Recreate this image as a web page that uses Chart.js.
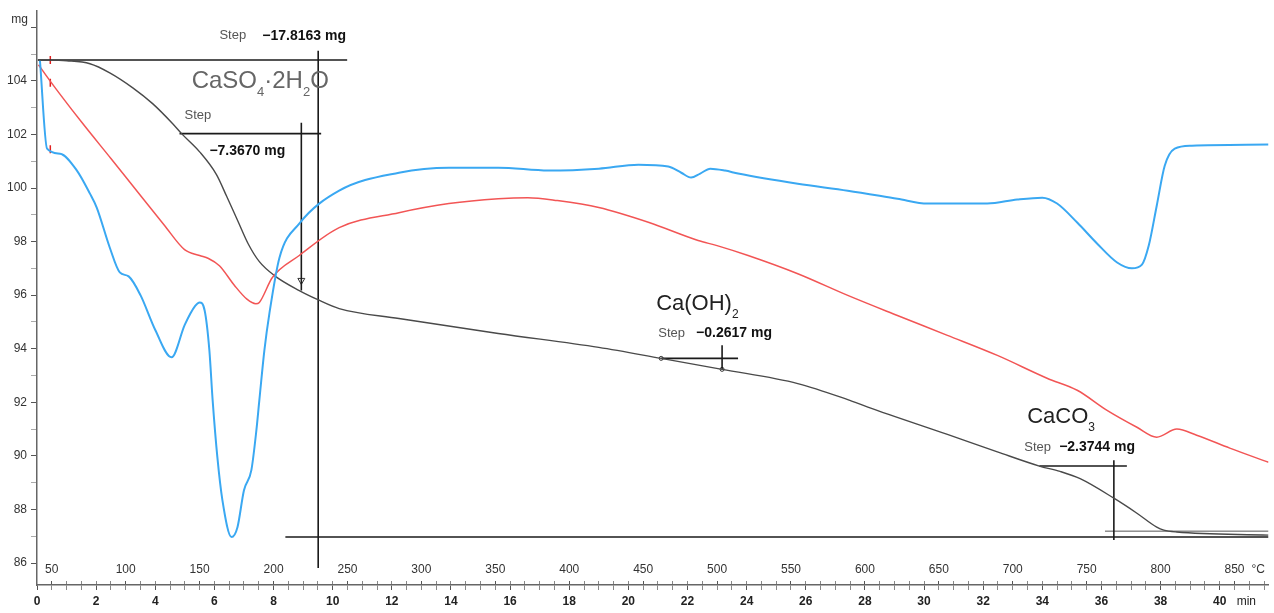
<!DOCTYPE html>
<html>
<head>
<meta charset="utf-8">
<script src="https://cdn.jsdelivr.net/npm/chart.js@4.4.1/dist/chart.umd.min.js"></script>
<style>
  html, body { margin: 0; padding: 0; background: #fff; }
  #wrap { width: 1274px; height: 613px; }
</style>
</head>
<body>
<div id="wrap"><canvas id="myChart"></canvas></div>
<script>
// axis ranges (time in min, mass in mg) and heating program
var tMin = 0, tMax = 41.65;
var massMin = 85.18, massMax = 106.6;
var tempStart = 40, heatRate = 20; // °C at t=0, °C/min

var massLabels = [86, 88, 90, 92, 94, 96, 98, 100, 102, 104];
var minuteLabels = [0, 2, 4, 6, 8, 10, 12, 14, 16, 18, 20, 22, 24, 26, 28, 30, 32, 34, 36, 38, 40];
var tempLabels = [50, 100, 150, 200, 250, 300, 350, 400, 450, 500, 550, 600, 650, 700, 750, 800, 850];

// blue curve
var blueT = [0.1, 0.34, 0.78, 1.35, 1.79, 2.02, 2.46, 2.8, 3.1, 3.5, 4.0, 4.55, 5.0, 5.35, 5.5, 5.67, 5.83, 5.94, 6.1, 6.27, 6.58, 6.78, 7.0, 7.25, 7.42, 7.52, 7.69, 7.86, 8.2, 8.87, 10.22, 12.24, 13.93, 15.6, 17.3, 19.0, 20.34, 21.35, 21.79, 22.12, 22.43, 22.77, 23.27, 23.71, 25.73, 27.42, 29.1, 30.12, 32.14, 33.15, 34.0, 34.5, 35.18, 35.85, 36.53, 37.03, 37.37, 37.6, 37.87, 38.14, 38.48, 39.06, 41.65];
var blueM = [104.75, 101.47, 101.28, 100.65, 99.79, 99.27, 97.78, 96.85, 96.7, 96.0, 94.7, 93.68, 94.9, 95.6, 95.73, 95.43, 93.94, 92.08, 89.95, 88.35, 86.97, 87.34, 88.72, 89.47, 90.96, 92.08, 93.94, 95.32, 97.4, 98.67, 99.9, 100.57, 100.76, 100.76, 100.65, 100.72, 100.87, 100.8, 100.57, 100.39, 100.54, 100.72, 100.65, 100.54, 100.16, 99.9, 99.6, 99.42, 99.42, 99.57, 99.64, 99.42, 98.71, 97.93, 97.22, 97.0, 97.14, 97.85, 99.34, 100.83, 101.47, 101.58, 101.62];

// red curve
var redT = [0.05, 0.44, 1.5, 2.5, 3.5, 4.3, 4.99, 5.5, 5.8, 6.17, 6.68, 7.1, 7.4, 7.52, 7.96, 8.87, 10.22, 12.24, 13.93, 15.6, 16.6, 17.6, 19.0, 20.7, 22.36, 23.0, 24.05, 25.73, 27.42, 29.1, 30.79, 32.48, 34.16, 35.18, 36.19, 37.2, 37.87, 38.55, 39.22, 40.34, 41.65];
var redM = [104.6, 104.0, 102.47, 101.1, 99.72, 98.62, 97.7, 97.48, 97.37, 97.1, 96.36, 95.85, 95.68, 95.73, 96.66, 97.48, 98.52, 99.08, 99.42, 99.6, 99.64, 99.53, 99.27, 98.71, 98.04, 97.85, 97.48, 96.8, 95.99, 95.24, 94.5, 93.75, 92.9, 92.45, 91.7, 91.07, 90.7, 91.0, 90.77, 90.29, 89.76];

// TG curve
var tgT = [0.03, 1.01, 1.79, 2.46, 3.24, 3.91, 4.59, 4.89, 5.5, 6.07, 6.41, 6.8, 7.15, 7.52, 8.03, 8.87, 9.48, 10.22, 12.24, 15.6, 19.0, 21.11, 23.17, 25.73, 27.42, 28.1, 30.79, 32.48, 33.9, 34.6, 35.28, 36.42, 37.2, 37.87, 38.11, 38.55, 41.65];
var tgM = [104.78, 104.75, 104.64, 104.3, 103.74, 103.15, 102.4, 102.03, 101.35, 100.5, 99.7, 98.75, 97.9, 97.25, 96.73, 96.17, 95.84, 95.5, 95.13, 94.57, 94.05, 93.64, 93.23, 92.7, 92.1, 91.82, 90.8, 90.15, 89.62, 89.42, 89.15, 88.42, 87.86, 87.34, 87.23, 87.16, 87.04];

// step evaluation lines: [start, end]
var stepT = [[0.03, 10.49], [9.51, 9.51], [4.82, 9.61], [8.94, 8.94], [8.4, 41.65], [21.11, 23.71], [23.17, 23.17], [33.9, 36.86], [36.42, 36.42], [36.12, 41.65]];
var stepM = [[104.78, 104.78], [105.12, 85.81], [102.03, 102.03], [102.44, 96.17], [86.97, 86.97], [93.64, 93.64], [94.13, 93.23], [89.62, 89.62], [89.84, 86.86], [87.19, 87.19]];

// small markers
var redMarkT = [0.45, 0.45, 0.45];
var redMarkM = [104.78, 103.93, 101.45];
var dotT = [21.11, 23.17];
var dotM = [93.64, 93.23];
var arrowT = [8.94];
var arrowM = [96.55];

// texts
var notes = [
  { t: 6.17, m: 105.68, text: 'Step', kind: 'step' },
  { t: 7.62, m: 105.68, text: '\u221217.8163 mg', kind: 'value' },
  { t: 5.23, m: 103.74, text: 'CaSO_4\u00b72H_2O', kind: 'big' },
  { t: 4.99, m: 102.7, text: 'Step', kind: 'step' },
  { t: 5.83, m: 101.36, text: '\u22127.3670 mg', kind: 'value' },
  { t: 20.94, m: 95.43, text: 'Ca(OH)_2', kind: 'formula' },
  { t: 21.01, m: 94.57, text: 'Step', kind: 'step' },
  { t: 22.29, m: 94.57, text: '\u22120.2617 mg', kind: 'value' },
  { t: 33.49, m: 91.22, text: 'CaCO_3', kind: 'formula' },
  { t: 33.39, m: 90.32, text: 'Step', kind: 'step' },
  { t: 34.57, m: 90.32, text: '\u22122.3744 mg', kind: 'value' }
];

var FONT = '"Liberation Sans", Arial, sans-serif';
var noteStyles = {
  step: { size: 13, weight: 'normal', color: '#555', base: 'middle' },
  value: { size: 14, weight: 'bold', color: '#111', base: 'middle' },
  big: { size: 24, weight: 'normal', color: '#666', base: 'alphabetic' },
  formula: { size: 22, weight: 'normal', color: '#222', base: 'alphabetic' }
};

function pts(ts, ms) {
  return ts.map(function (t, i) { return { x: t, y: ms[i] }; });
}

function drawRich(c, x, y, str, st) {
  c.fillStyle = st.color;
  c.textAlign = 'left';
  c.textBaseline = st.base;
  var i = 0;
  while (i < str.length) {
    var sub = false;
    if (str[i] === '_') { sub = true; i++; }
    var ch = str[i];
    var size = sub ? Math.round(st.size * 0.56) : st.size;
    c.font = st.weight + ' ' + size + 'px ' + FONT;
    c.fillText(ch, x, sub ? y + st.size * 0.34 : y);
    x += c.measureText(ch).width;
    i++;
  }
}

var notesPlugin = {
  id: 'notes',
  afterDatasetsDraw: function (chart) {
    var c = chart.ctx, xs = chart.scales.x, ys = chart.scales.y;
    c.save();
    notes.forEach(function (n) {
      drawRich(c, xs.getPixelForValue(n.t), ys.getPixelForValue(n.m), n.text, noteStyles[n.kind]);
    });
    c.fillStyle = '#333';
    c.font = '12px ' + FONT;
    c.textAlign = 'right';
    c.textBaseline = 'middle';
    c.fillText('mg', ys.right - 9, ys.getPixelForValue(106) - 8);
    c.restore();
  }
};

var minuteTicks = [];
for (var v = 0; v <= 41.5; v += 0.5) minuteTicks.push(v);
minuteTicks.push(40.9); // "min" unit label
var tempTicks = [];
for (var T = 50; T <= 870; T += 10) tempTicks.push(T);
tempTicks.push(866); // "°C" unit label
var massTicks = [];
for (var m = 86; m <= 106; m += 1) massTicks.push(m);

var datasets = [
  { data: pts(blueT, blueM), borderColor: '#3aa8f2', borderWidth: 2 },
  { data: pts(redT, redM), borderColor: '#f25555', borderWidth: 1.5 },
  { data: pts(tgT, tgM), borderColor: '#4a4a4a', borderWidth: 1.4 }
].map(function (d) {
  d.showLine = true; d.pointRadius = 0; d.cubicInterpolationMode = 'monotone';
  return d;
});

stepT.forEach(function (ts, i) {
  datasets.push({
    data: pts(ts, stepM[i]), showLine: true, pointRadius: 0,
    borderColor: i === 9 ? '#555' : '#1a1a1a', borderWidth: i === 9 ? 1 : 1.6
  });
});

datasets.push({ data: pts(redMarkT, redMarkM), pointStyle: 'line', rotation: 90, pointRadius: 4, borderColor: '#e02020', borderWidth: 1.5 });
datasets.push({ data: pts(dotT, dotM), pointStyle: 'circle', pointRadius: 2, backgroundColor: '#fff', borderColor: '#333', borderWidth: 1 });
datasets.push({ data: pts(arrowT, arrowM), pointStyle: 'triangle', rotation: 180, pointRadius: 4, backgroundColor: '#fff', borderColor: '#333', borderWidth: 1 });

var ctx = document.getElementById('myChart').getContext('2d');
var myChart = new Chart(ctx, {
  type: 'scatter',
  data: { datasets: datasets },
  options: {
    responsive: true,
    maintainAspectRatio: false,
    animation: false,
    layout: { padding: { top: 10, right: 2, left: 0, bottom: 0 } },
    plugins: { legend: { display: false }, tooltip: { enabled: false } },
    scales: {
      x: {
        type: 'linear', position: 'bottom', weight: 1,
        min: tMin, max: tMax,
        afterBuildTicks: function (s) { s.ticks = minuteTicks.map(function (v) { return { value: v }; }); },
        afterFit: function (s) { s.height = 28; },
        border: { color: '#666', width: 1.5 },
        grid: {
          drawOnChartArea: false, tickLength: 5, tickWidth: 1,
          tickColor: function (c) {
            var v = c.tick && c.tick.value;
            if (v === 40.9) return 'rgba(0,0,0,0)';
            return minuteLabels.indexOf(v) >= 0 ? '#555' : '#888';
          }
        },
        ticks: {
          autoSkip: false, maxRotation: 0, padding: 4, color: '#222',
          font: function (c) {
            return { family: FONT, size: 12, weight: (c.tick && c.tick.value === 40.9) ? 'normal' : 'bold' };
          },
          callback: function (v) {
            if (v === 40.9) return 'min';
            return minuteLabels.indexOf(v) >= 0 ? String(v) : '';
          }
        }
      },
      temp: {
        type: 'linear', position: 'bottom', weight: 0,
        min: tempStart + heatRate * tMin, max: tempStart + heatRate * tMax,
        afterBuildTicks: function (s) { s.ticks = tempTicks.map(function (v) { return { value: v }; }); },
        afterFit: function (s) { s.height = 0; },
        border: { display: false },
        grid: {
          drawOnChartArea: false, tickLength: -4, tickWidth: 1,
          tickColor: function (c) {
            var v = c.tick && c.tick.value;
            if (v === 866) return 'rgba(0,0,0,0)';
            return tempLabels.indexOf(v) >= 0 ? '#555' : '#888';
          }
        },
        ticks: {
          mirror: true, autoSkip: false, maxRotation: 0, padding: 8, color: '#333',
          font: { family: FONT, size: 12 },
          callback: function (v) {
            if (v === 866) return '\u00b0C';
            return tempLabels.indexOf(v) >= 0 ? String(v) : '';
          }
        }
      },
      y: {
        type: 'linear', position: 'left',
        min: massMin, max: massMax,
        afterBuildTicks: function (s) { s.ticks = massTicks.map(function (v) { return { value: v }; }); },
        afterFit: function (s) { s.width = 37; },
        border: { color: '#666', width: 1.5 },
        grid: {
          drawOnChartArea: false, tickLength: 6, tickWidth: 1,
          tickColor: function (c) {
            var v = c.tick && c.tick.value;
            return (v % 2 === 0) ? '#555' : '#aaa';
          }
        },
        ticks: {
          padding: 4, color: '#333', font: { family: FONT, size: 12 },
          callback: function (v) { return massLabels.indexOf(v) >= 0 ? String(v) : ''; }
        }
      }
    }
  },
  plugins: [notesPlugin]
});
</script>
</body>
</html>
